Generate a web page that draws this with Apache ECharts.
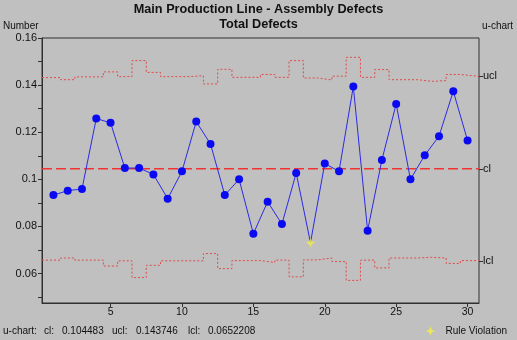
<!DOCTYPE html>
<html>
<head>
<meta charset="utf-8">
<title>Main Production Line - Assembly Defects</title>
<script src="https://cdn.jsdelivr.net/npm/echarts@6/dist/echarts.min.js"></script>
<style>
  html, body { margin: 0; padding: 0; background: #c0c0c0; }
  #chart { width: 517px; height: 340px; }
</style>
</head>
<body>
<div id="chart"></div>
<script>
// Subgroup numbers (x axis)
const subgroups = [1, 2, 3, 4, 5, 6, 7, 8, 9, 10, 11, 12, 13, 14, 15,
                   16, 17, 18, 19, 20, 21, 22, 23, 24, 25, 26, 27, 28, 29, 30];

// Defects per unit for each subgroup
const defectRate = [0.0933, 0.0952, 0.0959, 0.1258, 0.1240, 0.1048, 0.1048, 0.1021, 0.0918, 0.1034,
                    0.1245, 0.1150, 0.0933, 0.1000, 0.0769, 0.0905, 0.0810, 0.1027, 0.0731, 0.1067,
                    0.1034, 0.1394, 0.0782, 0.1082, 0.1320, 0.1000, 0.1102, 0.1183, 0.1374, 0.1165];

// Upper / lower control limits per subgroup (vary with sample size)
const upperLimit = [0.1432, 0.1423, 0.1435, 0.1435, 0.1456, 0.1436, 0.1504, 0.1454, 0.1436, 0.1436,
                    0.1440, 0.1405, 0.1467, 0.1433, 0.1433, 0.1445, 0.1433, 0.1504, 0.1430, 0.1422,
                    0.1438, 0.1518, 0.1433, 0.1466, 0.1423, 0.1423, 0.1416, 0.1419, 0.1445, 0.1437];
const lowerLimit = [0.0657, 0.0666, 0.0657, 0.0657, 0.0632, 0.0654, 0.0583, 0.0635, 0.0654, 0.0654,
                    0.0654, 0.0685, 0.0621, 0.0655, 0.0655, 0.0647, 0.0657, 0.0586, 0.0658, 0.0666,
                    0.0651, 0.0571, 0.0657, 0.0624, 0.0666, 0.0666, 0.0669, 0.0666, 0.0643, 0.0655];

// Summary limits
const centerLine = 0.104483;
const uclSummary = 0.143746;
const lclSummary = 0.0652208;

// Subgroups flagged by a run rule
const ruleViolations = [19];

// Axis ticks
const xTickLabels = [5, 10, 15, 20, 25, 30];
const yTickLabels = [0.06, 0.08, 0.1, 0.12, 0.14, 0.16];
const yTickMarks = [0.05, 0.06, 0.07, 0.08, 0.09, 0.1, 0.11, 0.12, 0.13, 0.14, 0.15, 0.16];

const X_MIN = 0.2, X_MAX = 30.8;
const Y_MIN = 0.0475, Y_MAX = 0.16;

// Step outline for a per-subgroup limit: flat across each subgroup's width
function stepPath(limits) {
  const pts = [];
  subgroups.forEach((s, i) => {
    const left = i === 0 ? X_MIN : s - 0.5;
    const right = i === subgroups.length - 1 ? X_MAX : s + 0.5;
    pts.push([left, limits[i]], [right, limits[i]]);
  });
  return pts;
}

const starPath = 'path://M5,0 L6.5,3.5 L10,5 L6.5,6.5 L5,10 L3.5,6.5 L0,5 L3.5,3.5 Z';
const FONT = 'Liberation Sans, Arial, sans-serif';
const limitStyle = { color: '#e04a4a', width: 1, type: [2, 2] };

const rateData = subgroups.map((s, i) => {
  const item = { value: [s, defectRate[i]] };
  if (ruleViolations.includes(s)) item.symbolSize = 0;
  return item;
});
const violationData = ruleViolations.map(s => [s, defectRate[subgroups.indexOf(s)]]);

const chart = echarts.init(document.getElementById('chart'), null, { renderer: 'canvas' });

const txt = (left, top, text, font) => ({
  type: 'text', left, top, style: { text, font: font || ('10px ' + FONT), fill: '#111' }
});

chart.setOption({
  backgroundColor: '#c0c0c0',
  animation: false,
  textStyle: { fontFamily: FONT },
  grid: {
    left: 42, top: 38, right: 38, bottom: 37,
    show: true, borderColor: '#303030', borderWidth: 1, backgroundColor: 'transparent'
  },
  xAxis: {
    type: 'value', min: X_MIN, max: X_MAX,
    splitLine: { show: false },
    axisLine: { show: true, lineStyle: { color: '#303030' } },
    axisTick: { show: true, length: 4, customValues: xTickLabels, lineStyle: { color: '#303030' } },
    axisLabel: { customValues: xTickLabels, color: '#111', fontSize: 10.5, fontFamily: FONT, margin: 4 }
  },
  yAxis: [{
    type: 'value', min: Y_MIN, max: Y_MAX,
    splitLine: { show: false },
    axisLine: { show: true, lineStyle: { color: '#303030' } },
    axisTick: { show: true, length: 4, customValues: yTickMarks, lineStyle: { color: '#303030' } },
    axisLabel: {
      customValues: yTickLabels, color: '#111', fontSize: 11, fontFamily: FONT, margin: 5,
      formatter: v => String(Math.round(v * 100) / 100)
    }
  }, {
    type: 'value', min: Y_MIN, max: Y_MAX, position: 'right',
    splitLine: { show: false },
    axisLine: { show: false },
    axisTick: { show: true, length: 4, customValues: [lclSummary, centerLine, uclSummary], lineStyle: { color: '#303030' } },
    axisLabel: {
      customValues: [lclSummary, centerLine, uclSummary], color: '#111', fontSize: 11, fontFamily: FONT, margin: 4,
      formatter: v => {
        const names = [[lclSummary, 'lcl'], [centerLine, 'cl'], [uclSummary, 'ucl']];
        names.sort((a, b) => Math.abs(a[0] - v) - Math.abs(b[0] - v));
        return names[0][1];
      }
    }
  }],
  legend: {
    left: 426, top: 326, padding: 0, itemWidth: 14, itemHeight: 9, itemGap: 4,
    data: ['Rule Violation'],
    textStyle: { fontSize: 10, color: '#111', fontFamily: FONT, padding: [0, 0, 0, 3] }
  },
  graphic: [
    txt('center', 3, 'Main Production Line - Assembly Defects', 'bold 12.7px ' + FONT),
    txt('center', 18, 'Total Defects', 'bold 12.7px ' + FONT),
    txt(3, 21, 'Number'),
    txt(482, 21, 'u-chart'),
    txt(3, 326, 'u-chart:'),
    txt(44, 326, 'cl:'),
    txt(62, 326, String(centerLine)),
    txt(112, 326, 'ucl:'),
    txt(136, 326, String(uclSummary)),
    txt(188, 326, 'lcl:'),
    txt(208, 326, String(lclSummary))
  ],
  series: [
    {
      name: 'UCL', type: 'line', data: stepPath(upperLimit),
      symbol: 'none', lineStyle: limitStyle, silent: true, z: 2
    },
    {
      name: 'LCL', type: 'line', data: stepPath(lowerLimit),
      symbol: 'none', lineStyle: limitStyle, silent: true, z: 2
    },
    {
      name: 'CL', type: 'line', data: [[X_MIN, centerLine], [X_MAX, centerLine]],
      symbol: 'none', silent: true, z: 2,
      lineStyle: { color: '#f03434', width: 1.5, type: [10, 4] }
    },
    {
      name: 'Defects per Unit', type: 'line', data: rateData,
      symbol: 'circle', symbolSize: 8,
      lineStyle: { color: '#2a2ae6', width: 1 },
      itemStyle: { color: '#0a0af2' }, z: 3
    },
    {
      name: 'Rule Violation', type: 'scatter', data: violationData,
      symbol: starPath, symbolSize: 9,
      itemStyle: { color: '#f6f23c' }, z: 4
    }
  ]
});
</script>
</body>
</html>
